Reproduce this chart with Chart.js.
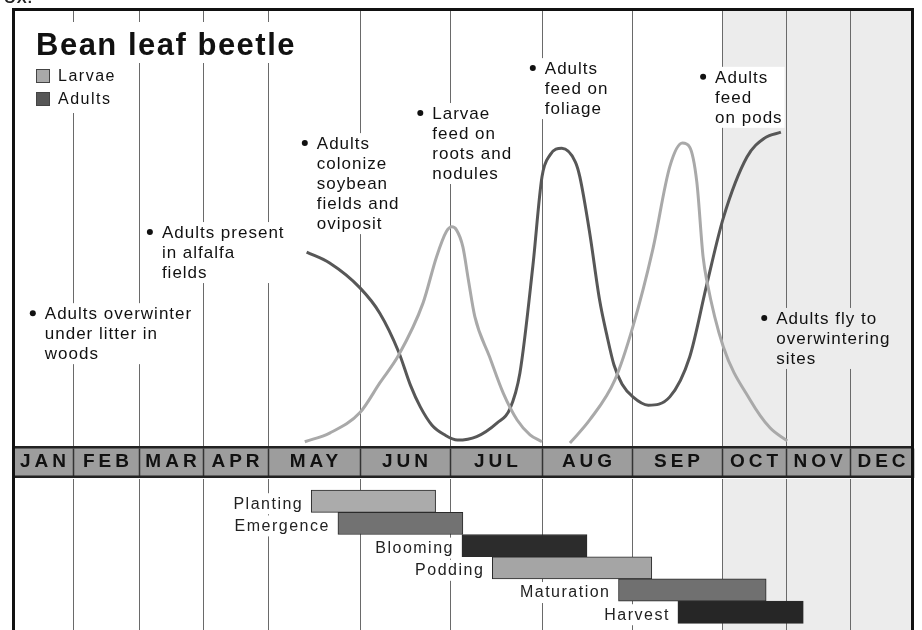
<!DOCTYPE html>
<html>
<head>
<meta charset="utf-8">
<title>Bean leaf beetle</title>
<script src="https://cdn.jsdelivr.net/npm/chart.js@4.4.1/dist/chart.umd.min.js"></script>
<style>
  html, body { margin: 0; padding: 0; background: #fff; }
  #wrap { position: relative; width: 922px; height: 630px; overflow: hidden; background: #fff; }
  #top { position: absolute; left: 0; top: 0; }
  #bottom { position: absolute; left: 0; top: 479px; }
  #frame { position: absolute; left: 12px; top: 8px; width: 902px; height: 700px; box-sizing: border-box;
           border: 3px solid #111; border-bottom: none; pointer-events: none; }
  #cut { position: absolute; left: 4px; top: -11px; font: bold 15px "Liberation Sans", Arial, sans-serif;
         color: #222; letter-spacing: 1px; }
</style>
</head>
<body>
<div id="wrap">
  <canvas id="top" width="922" height="479"></canvas>
  <canvas id="bottom" width="922" height="151"></canvas>
  <div id="frame"></div>
  <div id="cut">OX.</div>
</div>
<script>
const FONT = '"Liberation Sans", Arial, Helvetica, sans-serif';
Chart.defaults.font.family = FONT;

const chartTitle = 'Bean leaf beetle';
const months = ['JAN', 'FEB', 'MAR', 'APR', 'MAY', 'JUN', 'JUL', 'AUG', 'SEP', 'OCT', 'NOV', 'DEC'];

// x in months (0 = start of Jan), y = relative abundance 0-100
const larvaeMonth = [4.40, 4.67, 5.00, 5.22, 5.43, 5.70, 5.85, 5.96, 6.02, 6.07, 6.14, 6.20, 6.27, 6.43,
  6.58, 6.73, 6.87, 7.00, 7.15, 7.31, 7.53, 7.81, 8.01, 8.23, 8.42, 8.56, 8.64, 8.72, 8.79, 8.83,
  9.02, 9.44, 9.75, 10.02];
const larvaeLevel = [1.2, 3.2, 7.9, 14.7, 21.1, 33.0, 43.6, 49.4, 50.5, 49.8, 45.9, 38.3, 29.9, 20.7,
  12.3, 6.2, 2.8, 1.2, null, 0.9, 6.2, 15.4, 27.6, 45.2, 64.3, 69.7, 68.8, 60.8, 43.6, 38.3,
  23.0, 10.8, 4.4, 1.4];

const adultMonth = [4.42, 4.67, 5.00, 5.22, 5.43, 5.56, 5.67, 5.80, 5.94, 6.08, 6.29, 6.51, 6.65, 6.76,
  6.90, 7.00, 7.09, 7.22, 7.37, 7.42, 7.53, 7.64, 7.72, 7.80, 7.89, 8.01, 8.18, 8.42, 8.64, 8.83,
  9.02, 9.39, 9.67, 9.92];
const adultLevel = [44.7, 42.2, 36.5, 30.7, 21.8, 14.2, 9.2, 5.0, 2.8, 1.6, 2.4, 5.5, 8.7, 17.0,
  41.4, 62.0, 67.0, 68.5, 65.4, 62.0, 49.1, 33.7, 25.7, 18.8, 14.4, 11.5, 9.6, 11.5, 20.6, 37.2,
  52.5, 66.5, 70.9, 72.2];

// crop stages (month start / end)
const stages = ['Planting', 'Emergence', 'Blooming', 'Podding', 'Maturation', 'Harvest'];
const stageStart = [4.47, 4.76, 6.13, 6.46, 7.85, 8.51];
const stageEnd = [5.84, 6.14, 7.50, 8.22, 9.69, 10.27];

// notes: anchor month, level, text lines
const noteMonth = [0.33, 2.17, 4.40, 5.67, 6.90, 8.79, 9.66];
const noteLevel = [30.7, 49.3, 69.7, 76.6, 86.9, 84.9, 29.6];
const noteLines = [
  ['Adults overwinter', 'under litter in', 'woods'],
  ['Adults present', 'in alfalfa', 'fields'],
  ['Adults', 'colonize', 'soybean', 'fields and', 'oviposit'],
  ['Larvae', 'feed on', 'roots and', 'nodules'],
  ['Adults', 'feed on', 'foliage'],
  ['Adults', 'feed', 'on pods'],
  ['Adults fly to', 'overwintering', 'sites']
];

// layout: growing season months are drawn wider than the rest
const monthSpan = [60, 66, 64, 65, 92, 90, 92, 90, 90, 64, 64, 63];
const edges = [0];
monthSpan.forEach(w => edges.push(edges[edges.length - 1] + w));
const warp = m => {
  const i = Math.max(0, Math.min(11, Math.floor(m)));
  return edges[i] + (m - i) * monthSpan[i];
};
const toPoints = (ms, vs) => ms.map((m, i) => ({ x: warp(m), y: vs[i] }));

const SHADE = '#ececec';
const BAND = '#9d9d9d';
const GRID = '#6a6a6a';
const shadeFrom = 9;
const stageColors = ['#ababab', '#727272', '#2c2c2c', '#a5a5a5', '#707070', '#262626'];

function spacing(ctx, px) {
  if ('letterSpacing' in ctx) ctx.letterSpacing = px + 'px';
}

// boundary ticks (even index) carry grid lines, centre ticks (odd) carry month names
const xTicks = [];
for (let k = 0; k <= 12; k++) {
  xTicks.push({ value: edges[k] });
  if (k < 12) xTicks.push({ value: edges[k] + monthSpan[k] / 2 });
}

const shadePlugin = {
  id: 'shade',
  beforeDraw(chart) {
    const { ctx, chartArea: a, scales: { x } } = chart;
    const x0 = x.getPixelForValue(warp(shadeFrom));
    ctx.save();
    ctx.fillStyle = SHADE;
    ctx.fillRect(x0, a.top, a.right - x0, a.bottom - a.top);
    ctx.restore();
  }
};

const bandPlugin = {
  id: 'band',
  beforeDraw(chart) {
    const { ctx, chartArea: a, scales: { x } } = chart;
    ctx.fillStyle = BAND;
    ctx.fillRect(a.left, x.top, a.right - a.left, x.bottom - x.top);
    spacing(ctx, 4);
  },
  beforeDatasetsDraw(chart) {
    spacing(chart.ctx, 0);
  },
  afterDraw(chart) {
    const { ctx, chartArea: a, scales: { x } } = chart;
    ctx.save();
    ctx.strokeStyle = '#222';
    ctx.lineWidth = 2.5;
    ctx.beginPath();
    ctx.moveTo(a.left, x.bottom - 1.25);
    ctx.lineTo(a.right, x.bottom - 1.25);
    ctx.stroke();
    ctx.restore();
  }
};

const notesPlugin = {
  id: 'notes',
  beforeDatasetsDraw(chart) {
    const { ctx, chartArea: a, scales: { x, y } } = chart;
    const shadeX = x.getPixelForValue(warp(shadeFrom));
    ctx.save();

    // title + legend, on a white patch over the grid
    ctx.fillStyle = '#fff';
    ctx.fillRect(a.left + 15, a.top + 11, 276, 41);
    ctx.fillRect(a.left + 15, a.top + 52, 92, 50);
    ctx.font = `bold 31px ${FONT}`;
    spacing(ctx, 1.5);
    ctx.fillStyle = '#111';
    ctx.textBaseline = 'alphabetic';
    ctx.textAlign = 'left';
    ctx.fillText(chartTitle, a.left + 23, a.top + 44);

    ctx.font = `16px ${FONT}`;
    ctx.textBaseline = 'middle';
    chart.data.datasets.forEach((ds, i) => {
      const cy = a.top + 65 + i * 23;
      ctx.fillStyle = ds.borderColor;
      ctx.fillRect(a.left + 23, cy - 7, 14, 14);
      ctx.strokeStyle = '#444';
      ctx.lineWidth = 1;
      ctx.strokeRect(a.left + 23.5, cy - 6.5, 13, 13);
      ctx.fillStyle = '#111';
      ctx.fillText(ds.label, a.left + 45, cy + 1);
    });

    // bullet notes
    ctx.font = `17px ${FONT}`;
    spacing(ctx, 1);
    noteLines.forEach((lines, n) => {
      const bx = x.getPixelForValue(warp(noteMonth[n]));
      const by = y.getPixelForValue(noteLevel[n]);
      const w = Math.max(...lines.map(t => ctx.measureText(t).width));
      ctx.fillStyle = bx > shadeX ? SHADE : '#fff';
      ctx.fillRect(bx - 6, by - 10, w + 20, (lines.length - 1) * 20 + 21);
      ctx.fillStyle = '#111';
      ctx.beginPath();
      ctx.arc(bx, by, 3, 0, Math.PI * 2);
      ctx.fill();
      lines.forEach((t, k) => ctx.fillText(t, bx + 12, by + k * 20 + 1));
    });
    ctx.restore();
    spacing(ctx, 0);
  }
};

new Chart(document.getElementById('top'), {
  type: 'line',
  data: {
    datasets: [
      {
        label: 'Larvae',
        data: toPoints(larvaeMonth, larvaeLevel),
        borderColor: '#a9a9a9',
        borderWidth: 3,
        pointRadius: 0,
        cubicInterpolationMode: 'monotone',
        spanGaps: false,
        fill: false
      },
      {
        label: 'Adults',
        data: toPoints(adultMonth, adultLevel),
        borderColor: '#575757',
        borderWidth: 3,
        pointRadius: 0,
        cubicInterpolationMode: 'monotone',
        fill: false
      }
    ]
  },
  options: {
    responsive: false,
    animation: false,
    layout: { padding: { left: 13, right: 9, top: 11, bottom: 1 } },
    scales: {
      x: {
        type: 'linear',
        min: 0,
        max: edges[12],
        afterBuildTicks: s => { s.ticks = xTicks.map(t => ({ value: t.value })); },
        afterFit: s => { s.height = 31; },
        grid: {
          color: c => c.index % 2 === 0 ? GRID : 'rgba(0,0,0,0)',
          lineWidth: 1,
          tickLength: 31,
          tickColor: c => c.index % 2 === 0 ? '#333' : 'rgba(0,0,0,0)',
          tickWidth: 1.5
        },
        border: { display: true, color: '#222', width: 2.5 },
        ticks: {
          autoSkip: false,
          maxRotation: 0,
          padding: -25.5,
          labelOffset: 2,
          color: '#111',
          font: { size: 19, weight: 'bold', lineHeight: 1 },
          callback: (v, i) => i % 2 ? months[(i - 1) / 2] : ''
        }
      },
      y: { display: false, min: 0, max: 100 }
    },
    plugins: {
      legend: { display: false },
      tooltip: { enabled: false }
    }
  },
  plugins: [shadePlugin, bandPlugin, notesPlugin]
});

const stagePlugin = {
  id: 'stageLabels',
  beforeDatasetsDraw(chart) {
    const { ctx } = chart;
    const meta = chart.getDatasetMeta(0);
    ctx.save();
    ctx.font = `16px ${FONT}`;
    spacing(ctx, 1.5);
    ctx.textAlign = 'right';
    ctx.textBaseline = 'middle';
    meta.data.forEach((bar, i) => {
      const { x, y, base } = bar.getProps(['x', 'y', 'base'], true);
      const right = Math.min(x, base) - 8;
      const w = ctx.measureText(stages[i]).width;
      ctx.fillStyle = '#fff';
      ctx.fillRect(right - w - 3, y - 8, w + 6, 21);
      ctx.fillStyle = '#222';
      ctx.fillText(stages[i], right, y + 3);
    });
    ctx.restore();
    spacing(ctx, 0);
  }
};

new Chart(document.getElementById('bottom'), {
  type: 'bar',
  data: {
    datasets: [{
      label: 'Crop stage',
      data: stages.map((s, i) => ({ x: [warp(stageStart[i]), warp(stageEnd[i])], y: i })),
      backgroundColor: stageColors,
      borderColor: '#2a2a2a',
      borderWidth: 1,
      borderSkipped: false,
      barPercentage: 1,
      categoryPercentage: 1
    }]
  },
  options: {
    indexAxis: 'y',
    responsive: false,
    animation: false,
    layout: { padding: { left: 13, right: 9, top: 0, bottom: 0 } },
    scales: {
      x: {
        type: 'linear',
        position: 'top',
        min: 0,
        max: edges[12],
        afterBuildTicks: s => { s.ticks = edges.map(v => ({ value: v })); },
        afterFit: s => { s.height = 0; },
        grid: { color: GRID, lineWidth: 1, drawTicks: false },
        border: { display: false },
        ticks: { display: false }
      },
      y: {
        type: 'linear',
        reverse: true,
        offset: false,
        min: -1,
        max: 5.8,
        display: false,
        afterBuildTicks: s => { s.ticks = stages.map((_, i) => ({ value: i })); }
      }
    },
    plugins: {
      legend: { display: false },
      tooltip: { enabled: false }
    }
  },
  plugins: [shadePlugin, stagePlugin]
});
</script>
</body>
</html>
